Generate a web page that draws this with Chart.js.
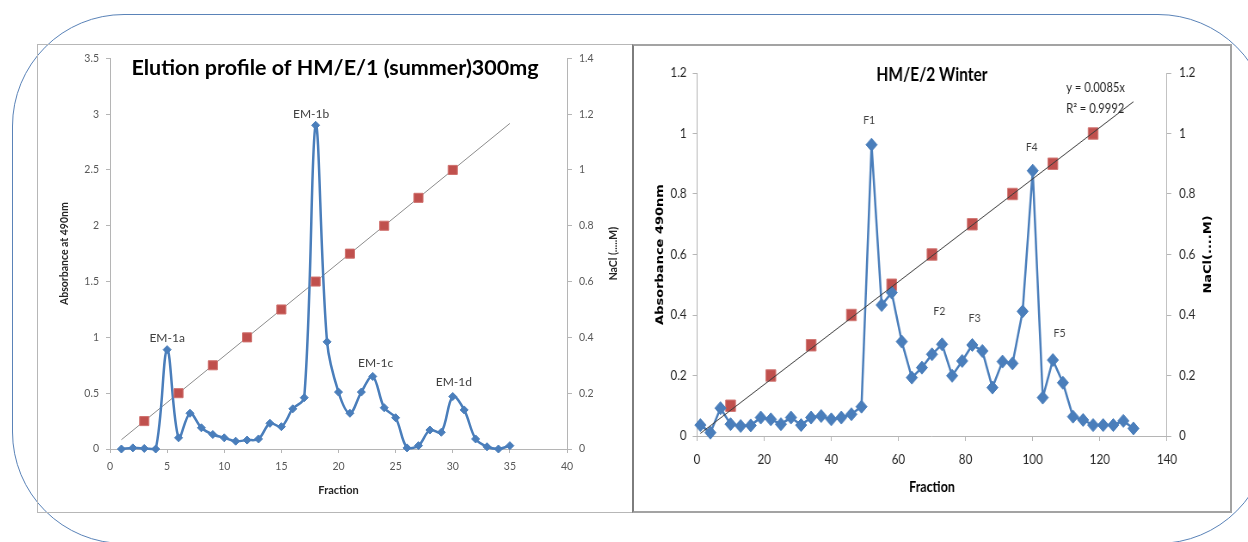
<!DOCTYPE html>
<html>
<head>
<meta charset="utf-8">
<title>Elution profiles</title>
<script src="https://cdn.jsdelivr.net/npm/chart.js@4.4.1/dist/chart.umd.min.js"></script>
<style>
  html, body { margin: 0; padding: 0; background: #ffffff; }
  body { width: 1248px; height: 542px; position: relative; overflow: hidden; }
  #frame {
    position: absolute; left: 12px; top: 14px; width: 1258px; height: 530px;
    border: 1.5px solid #5a83b8; border-radius: 112px; box-sizing: border-box;
  }
  #panelA {
    position: absolute; left: 37px; top: 44px; width: 597px; height: 469px;
    border: 1.5px solid #b7b7b7; border-right: none; box-sizing: border-box;
  }
  #panelB {
    position: absolute; left: 632px; top: 44px; width: 600px; height: 469px;
    border: 2px solid #a3a3a3; border-left-color: #7d7d7d; box-sizing: border-box;
  }
  #boxA { position: absolute; left: 37px; top: 45px; width: 596px; height: 467px; }
  /* the winter panel is drawn wide and squeezed horizontally */
  #boxB {
    position: absolute; left: 633px; top: 45px; width: 695.3px; height: 467px;
    transform: scaleX(0.86); transform-origin: 0 0;
  }
</style>
</head>
<body>
<div id="frame"></div>
<div id="panelA"></div>
<div id="panelB"></div>
<div id="boxA"><canvas id="chartSummer"></canvas></div>
<div id="boxB"><canvas id="chartWinter"></canvas></div>

<script>
// ---------- HM/E/1 (summer) 300 mg ----------
const fractions1 = [1,2,3,4,5,6,7,8,9,10,11,12,13,14,15,16,17,18,19,20,21,22,23,24,25,26,27,28,29,30,31,32,33,34,35];
const absorbance1 = [0,0.01,0.005,0,0.89,0.10,0.32,0.19,0.13,0.10,0.07,0.08,0.09,0.23,0.20,0.36,0.46,2.90,0.96,0.51,0.32,0.51,0.65,0.37,0.28,0.01,0.03,0.17,0.15,0.47,0.35,0.09,0.02,0,0.03];
const naclFractions1 = [3,6,9,12,15,18,21,24,27,30];
const nacl1 = [0.1,0.2,0.3,0.4,0.5,0.6,0.7,0.8,0.9,1.0];
const peakNames1 = ['EM-1a','EM-1b','EM-1c','EM-1d'];
const peakLabelX1 = [5, 17.6, 23.25, 30.1];
const peakLabelY1 = [0.99, 3.0, 0.77, 0.595];
const xTicks1 = [0,5,10,15,20,25,30,35,40];
const yTicks1 = [0,0.5,1,1.5,2,2.5,3,3.5];
const y2Ticks1 = [0,0.2,0.4,0.6,0.8,1,1.2,1.4];
const trendRange1 = [1, 35];

// ---------- HM/E/2 Winter ----------
const fractions2 = [1,4,7,10,13,16,19,22,25,28,31,34,37,40,43,46,49,52,55,58,61,64,67,70,73,76,79,82,85,88,91,94,97,100,103,106,109,112,115,118,121,124,127,130];
const absorbance2 = [0.036,0.011,0.092,0.039,0.033,0.035,0.061,0.055,0.039,0.061,0.036,0.061,0.066,0.055,0.061,0.072,0.097,0.963,0.433,0.474,0.312,0.193,0.226,0.270,0.303,0.199,0.248,0.301,0.281,0.160,0.246,0.240,0.412,0.877,0.127,0.251,0.176,0.064,0.053,0.036,0.036,0.036,0.050,0.025];
const naclFractions2 = [10,22,34,46,58,70,82,94,106,118];
const nacl2 = [0.1,0.2,0.3,0.4,0.5,0.6,0.7,0.8,0.9,1.0];
const peakNames2 = ['F1','F2','F3','F4','F5'];
const peakLabelX2 = [51.3, 72.2, 82.7, 99.7, 108];
const peakLabelY2 = [1.045, 0.413, 0.39, 0.955, 0.34];
const xTicks2 = [0,20,40,60,80,100,120,140];
const yTicks2 = [0,0.2,0.4,0.6,0.8,1,1.2];
const trendSlope2 = 0.0085;
const trendR2 = 0.9992;
const trendRange2 = [1, 130];
const equationAt2 = [110, 1.150, 1.081];

const BLUE = '#4a7ebb';
const RED = '#c0504d';

// least-squares slope of a line through the origin
function originSlope(xs, ys) {
  let sxy = 0, sxx = 0;
  xs.forEach((x, i) => { sxy += x * ys[i]; sxx += x * x; });
  return sxy / sxx;
}
const trendSlope1 = originSlope(naclFractions1, nacl1);

const pts = (xs, ys) => xs.map((x, i) => ({ x, y: ys[i] }));
const linePts = (range, k) => range.map(x => ({ x, y: k * x }));

function drawText(ctx, text, x, y, font, color, rot, align) {
  ctx.save();
  ctx.translate(x, y);
  if (rot) ctx.rotate(rot);
  ctx.font = font;
  ctx.fillStyle = color;
  ctx.textAlign = align || 'center';
  ctx.textBaseline = 'middle';
  ctx.fillText(text, 0, 0);
  ctx.restore();
}

function fixedTicks(list) {
  return s => { s.ticks = list.map(v => ({ value: v })); };
}

function axis(opts) {
  return {
    type: 'linear',
    position: opts.position,
    min: opts.ticks[0],
    max: opts.ticks[opts.ticks.length - 1],
    afterBuildTicks: fixedTicks(opts.ticks),
    afterFit: s => {
      if (opts.position === 'bottom') s.height = opts.size; else s.width = opts.size;
    },
    grid: { drawOnChartArea: false, drawTicks: true, tickLength: opts.tickLength, color: '#b5b5b5' },
    border: { display: true, color: '#b5b5b5', width: 1 },
    ticks: {
      font: opts.font, color: opts.color, padding: opts.padding, maxRotation: 0, autoSkip: false,
      callback: v => String(Math.round(v * 100) / 100)
    }
  };
}

// ---------- summer chart ----------
const summerCaptions = {
  id: 'summerCaptions',
  afterDraw(chart) {
    const { ctx, chartArea: a, scales } = chart;
    const midY = (a.top + a.bottom) / 2;
    drawText(ctx, 'Elution profile of HM/E/1 (summer)300mg', a.left + 225, 23, 'bold 21.5px Lato', '#000000');
    drawText(ctx, 'Absorbance at 490nm', 28, midY, 'bold 10.5px Lato', '#262626', -Math.PI / 2);
    drawText(ctx, 'NaCl (.....M)', 577, midY, 'bold 10.5px Lato', '#262626', -Math.PI / 2);
    drawText(ctx, 'Fraction', (a.left + a.right) / 2, 445, 'bold 11px Lato', '#262626');
    peakNames1.forEach((t, i) => {
      drawText(ctx, t, scales.x.getPixelForValue(peakLabelX1[i]), scales.y.getPixelForValue(peakLabelY1[i]),
        '12px Lato', '#404040');
    });
  }
};

new Chart(document.getElementById('chartSummer'), {
  type: 'line',
  data: {
    datasets: [
      {
        label: 'Absorbance',
        data: pts(fractions1, absorbance1),
        yAxisID: 'y',
        borderColor: BLUE,
        backgroundColor: BLUE,
        borderWidth: 2.5,
        tension: 0.35,
        pointStyle: 'rectRot',
        pointRadius: 4,
        pointBorderWidth: 1,
        clip: false,
        order: 2
      },
      {
        label: 'NaCl',
        data: pts(naclFractions1, nacl1),
        yAxisID: 'y1',
        showLine: false,
        pointStyle: 'rect',
        pointRadius: 6.4,
        backgroundColor: RED,
        borderColor: '#cf6f6c',
        pointBorderWidth: 1,
        order: 1
      },
      {
        label: 'Linear (NaCl)',
        data: linePts(trendRange1, trendSlope1),
        yAxisID: 'y1',
        borderColor: '#8c8c8c',
        borderWidth: 1,
        pointRadius: 0,
        order: 3
      }
    ]
  },
  options: {
    animation: false,
    responsive: true,
    maintainAspectRatio: false,
    layout: { padding: { top: 9, left: 0, right: 0, bottom: 0 } },
    plugins: { legend: { display: false }, tooltip: { enabled: false } },
    scales: {
      x: axis({ position: 'bottom', ticks: xTicks1, size: 63, tickLength: 4, padding: 7,
                font: { family: 'Lato', size: 10.5 }, color: '#595959' }),
      y: axis({ position: 'left', ticks: yTicks1, size: 73, tickLength: 4, padding: 7,
                font: { family: 'Lato', size: 10.5 }, color: '#595959' }),
      y1: axis({ position: 'right', ticks: y2Ticks1, size: 66, tickLength: 5, padding: 7,
                 font: { family: 'Lato', size: 10.5 }, color: '#595959' })
    }
  },
  plugins: [summerCaptions]
});

// ---------- winter chart ----------
const winterCaptions = {
  id: 'winterCaptions',
  afterDraw(chart) {
    const { ctx, chartArea: a, scales } = chart;
    const midY = (a.top + a.bottom) / 2;
    drawText(ctx, 'HM/E/2 Winter', (a.left + a.right) / 2, 30, 'bold 18px Lato', '#000000');
    drawText(ctx, 'Absorbance 490nm', 31.4, midY, 'bold 13px "DejaVu Sans"', '#000000', -Math.PI / 2);
    drawText(ctx, 'NaCl(....M)', 668.6, midY, 'bold 13px "DejaVu Sans"', '#000000', -Math.PI / 2);
    drawText(ctx, 'Fraction', (a.left + a.right) / 2, 442, 'bold 14.5px Lato', '#000000');
    const ex = scales.x.getPixelForValue(equationAt2[0]);
    drawText(ctx, 'y = ' + trendSlope2.toFixed(4) + 'x', ex, scales.y.getPixelForValue(equationAt2[1]),
      '13px Lato', '#262626', 0, 'left');
    drawText(ctx, 'R\u00b2 = ' + trendR2.toFixed(4), ex, scales.y.getPixelForValue(equationAt2[2]),
      '13px Lato', '#262626', 0, 'left');
    peakNames2.forEach((t, i) => {
      drawText(ctx, t, scales.x.getPixelForValue(peakLabelX2[i]), scales.y.getPixelForValue(peakLabelY2[i]),
        '12px Lato', '#404040');
    });
  }
};

new Chart(document.getElementById('chartWinter'), {
  type: 'line',
  data: {
    datasets: [
      {
        label: 'Absorbance',
        data: pts(fractions2, absorbance2),
        yAxisID: 'y',
        borderColor: BLUE,
        backgroundColor: BLUE,
        borderWidth: 2.5,
        tension: 0,
        pointStyle: 'rectRot',
        pointRadius: 6.5,
        pointBorderWidth: 1,
        clip: false,
        order: 2
      },
      {
        label: 'NaCl',
        data: pts(naclFractions2, nacl2),
        yAxisID: 'y1',
        showLine: false,
        pointStyle: 'rect',
        pointRadius: 8.1,
        backgroundColor: RED,
        borderColor: '#d27a77',
        pointBorderWidth: 1,
        order: 3
      },
      {
        label: 'Linear (NaCl)',
        data: linePts(trendRange2, trendSlope2),
        yAxisID: 'y1',
        borderColor: '#3a3a3a',
        borderWidth: 1,
        pointRadius: 0,
        order: 1
      }
    ]
  },
  options: {
    animation: false,
    responsive: true,
    maintainAspectRatio: false,
    layout: { padding: { top: 28, left: 0, right: 0, bottom: 0 } },
    plugins: { legend: { display: false }, tooltip: { enabled: false } },
    scales: {
      x: axis({ position: 'bottom', ticks: xTicks2, size: 76, tickLength: 5, padding: 11,
                font: { family: 'Lato', size: 13.5 }, color: '#262626' }),
      y: axis({ position: 'left', ticks: yTicks2, size: 74.4, tickLength: 5, padding: 7,
                font: { family: 'Lato', size: 13.5 }, color: '#262626' }),
      y1: axis({ position: 'right', ticks: yTicks2, size: 74.4, tickLength: 5, padding: 9,
                 font: { family: 'Lato', size: 13.5 }, color: '#262626' })
    }
  },
  plugins: [winterCaptions]
});
</script>
</body>
</html>
